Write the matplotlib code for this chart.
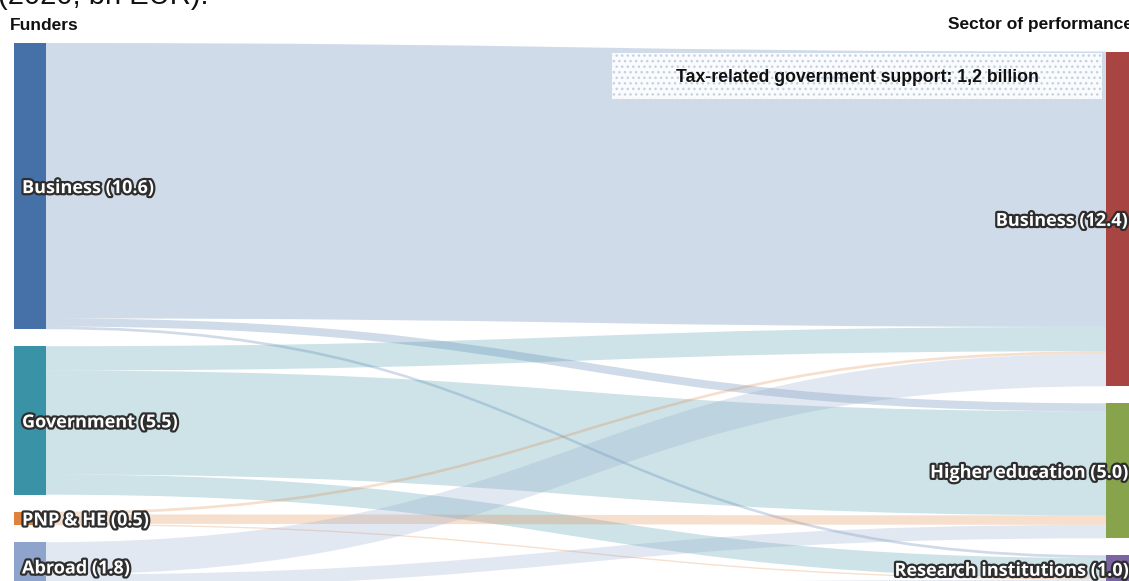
import matplotlib
matplotlib.use("Agg")
import matplotlib.pyplot as plt
import matplotlib.patheffects as pe
from matplotlib.path import Path
from matplotlib.patches import PathPatch, Rectangle
import numpy as np

# Funding sources (left) and sectors of performance (right), bn EUR, 2020
funders = ["Business", "Government", "PNP & HE", "Abroad"]
performers = ["Business", "Higher education", "Research institutions"]

# flows[i][j]: money from funder i spent in sector j
flows_business = [10.2, 0.3, 0.1]
flows_government = [0.9, 3.85, 0.75]
flows_pnp_he = [0.1, 0.35, 0.05]
flows_abroad = [1.2, 0.5, 0.1]

funder_colors = ["#4570a8", "#3a92a6", "#e0823c", "#8fa4cc"]
performer_colors = ["#a84442", "#87a34b", "#7b65a0"]

tax_note = "Tax-related government support: 1,2 billion"

W, H = 1129, 581
fig = plt.figure(figsize=(W / 100, H / 100), dpi=100)
ax = fig.add_axes([0, 0, 1, 1])
ax.set_xlim(0, W)
ax.set_ylim(H, 0)
ax.axis("off")

flows = np.array([flows_business, flows_government, flows_pnp_he, flows_abroad])
left_totals = flows.sum(axis=1)
right_totals = flows.sum(axis=0)

SCALE = 27.0       # pixels per bn EUR
GAP = 17.0         # vertical gap between nodes
NODE_W = 32
X_LEFT = 14
X_RIGHT = 1106
TOP = 43

# node positions
left_h = left_totals * SCALE
left_y0 = TOP + np.concatenate([[0], np.cumsum(left_h[:-1] + GAP)])
right_h = right_totals * SCALE
span_left = left_h.sum() + GAP * (len(left_h) - 1)
span_right = right_h.sum() + GAP * (len(right_h) - 1)
right_top = TOP + (span_left - span_right) / 2
right_y0 = right_top + np.concatenate([[0], np.cumsum(right_h[:-1] + GAP)])

# ribbons: leave each funder in sector order, enter each sector in funder order
x0 = X_LEFT + NODE_W
x1 = X_RIGHT
xm = (x0 + x1) / 2
left_cursor = left_y0.copy()
right_cursor = right_y0.copy()
ribbons = []
for i in range(len(funders)):
    for j in range(len(performers)):
        h = flows[i, j] * SCALE
        ribbons.append((i, j, left_cursor[i], h))
        left_cursor[i] += h
right_pos = {}
for j in range(len(performers)):
    for i in range(len(funders)):
        right_pos[(i, j)] = right_cursor[j]
        right_cursor[j] += flows[i, j] * SCALE

for (i, j, ly, h) in ribbons:
    ry = right_pos[(i, j)]
    verts = [
        (x0, ly), (xm, ly), (xm, ry), (x1, ry),
        (x1, ry + h),
        (xm, ry + h), (xm, ly + h), (x0, ly + h),
        (x0, ly),
    ]
    codes = [Path.MOVETO, Path.CURVE4, Path.CURVE4, Path.CURVE4,
             Path.LINETO,
             Path.CURVE4, Path.CURVE4, Path.CURVE4,
             Path.CLOSEPOLY]
    ax.add_patch(PathPatch(Path(verts, codes), facecolor=funder_colors[i],
                           alpha=0.25, edgecolor="none", zorder=1))

# nodes and their labels
label_fx = [pe.withStroke(linewidth=3.2, foreground="#2e2e2e")]
label_font = dict(family="Open Sans", weight="bold", fontsize=13,
                  color="white", path_effects=label_fx, zorder=5)
for i, name in enumerate(funders):
    ax.add_patch(Rectangle((X_LEFT, left_y0[i]), NODE_W, left_h[i],
                           facecolor=funder_colors[i], edgecolor="none", zorder=3))
    ax.text(X_LEFT + 8, left_y0[i] + left_h[i] / 2 + 2,
            f"{name} ({left_totals[i]:.1f})", ha="left", va="center",
            **label_font)
for j, name in enumerate(performers):
    ax.add_patch(Rectangle((X_RIGHT, right_y0[j]), NODE_W, right_h[j],
                           facecolor=performer_colors[j], edgecolor="none", zorder=3))
    ax.text(X_RIGHT + 21, right_y0[j] + right_h[j] / 2 + 2,
            f"{name} ({right_totals[j]:.1f})", ha="right", va="center",
            **label_font)

# tax support box with dotted fill
bx0, by0, bx1, by1 = 612, 53, 1102, 99
ax.add_patch(Rectangle((bx0, by0), bx1 - bx0, by1 - by0, facecolor="white",
                       edgecolor="none", alpha=0.9, zorder=4))
ax.add_patch(Rectangle((bx0, by0), bx1 - bx0, by1 - by0, facecolor="none",
                       edgecolor="#c4d1e2", linewidth=0, hatch="...", zorder=4))
ax.text((bx0 + bx1) / 2, (by0 + by1) / 2 + 2, tax_note, ha="center", va="center",
        family="Liberation Sans", weight="bold", fontsize=12.7, color="#111111",
        zorder=6)

# headers
ax.text(10, 25, "Funders", ha="left", va="center", family="Liberation Sans",
        weight="bold", fontsize=12.5, color="#111111")
ax.text(948, 25, "Sector of performance", ha="left", va="center",
        family="Liberation Sans", weight="bold", fontsize=12.5, color="#111111")
ax.text(-2, 4, "(2020, bn EUR):", ha="left", va="baseline",
        family="Liberation Sans", fontsize=21, color="#111111")

fig.savefig("out.png", dpi=100)
